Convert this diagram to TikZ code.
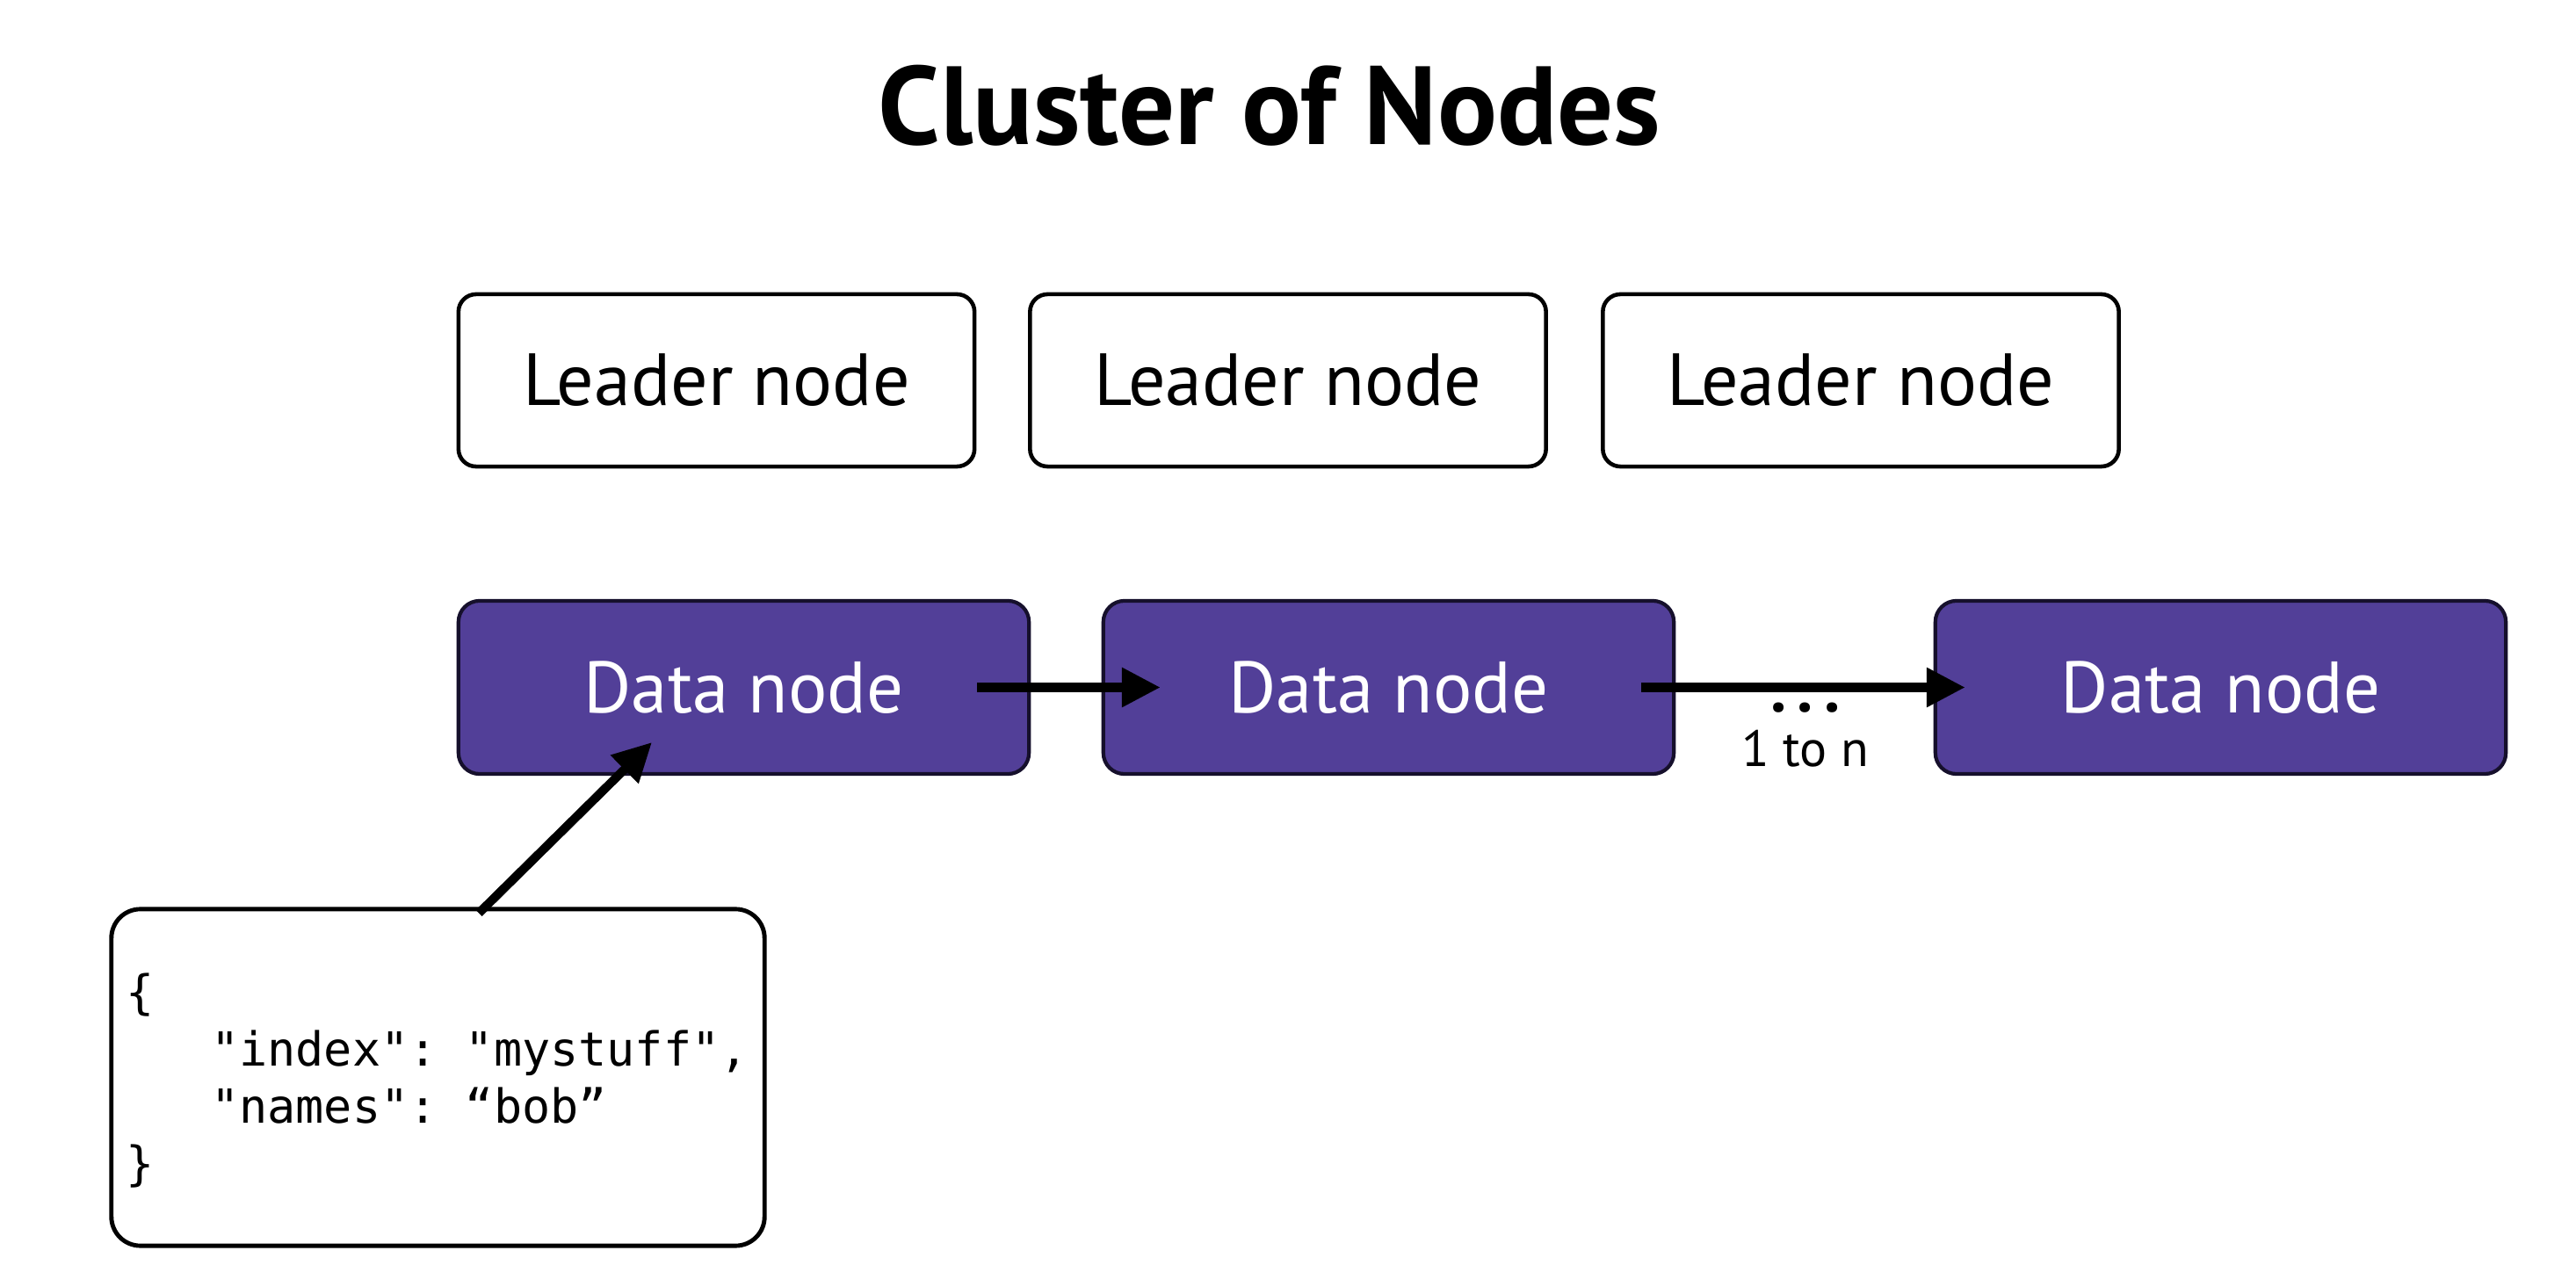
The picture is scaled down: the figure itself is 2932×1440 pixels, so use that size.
\documentclass[tikz,border=0pt]{standalone}
\usepackage{fontspec}
\setmainfont{PT Sans}
\setmonofont{DejaVu Sans Mono}
\usetikzlibrary{arrows.meta}
\definecolor{datapurple}{RGB}{82,63,152}
\definecolor{databorder}{RGB}{22,16,44}
\tikzset{
  leaderbox/.style={draw=black, line width=1.3pt, fill=white, rounded corners=0.2cm,
    minimum width=5.87cm, minimum height=1.96cm, inner sep=0pt,
    font=\fontsize{23.9pt}{28pt}\selectfont},
  databox/.style={draw=databorder, line width=1.2pt, fill=datapurple, rounded corners=0.24cm,
    minimum width=6.49cm, minimum height=1.97cm, inner sep=0pt, text=white,
    font=\fontsize{23.6pt}{28pt}\selectfont},
  jsonbox/.style={draw=black, line width=1.4pt, fill=white, rounded corners=0.33cm,
    minimum width=7.43cm, minimum height=3.83cm, inner sep=0pt},
  jsontxt/.style={anchor=west, inner sep=0pt, align=left,
    font=\ttfamily\fontsize{15.2pt}{18.5pt}\selectfont},
  arr/.style={line width=2.85pt, -{Triangle[length=12.5pt,width=12.2pt]}},
  lbl/.style={inner sep=0pt, font=\fontsize{16.5pt}{20pt}\selectfont},
  dotlbl/.style={inner sep=0pt, font=\bfseries\fontsize{21pt}{24pt}\selectfont},
  titletxt/.style={inner sep=0pt, font=\bfseries\fontsize{36pt}{42pt}\selectfont}
}
\begin{document}
\begin{tikzpicture}[x=0.01cm, y=-0.01cm]
  \fill[white] (0,0) rectangle (2932,1440);
  \useasboundingbox (0,0) rectangle (2932,1440);

  \node[titletxt] (title) at (1445,120) {Cluster of Nodes};

  \node[leaderbox] (l1) at (815.5,433) {Leader node};
  \node[leaderbox] (l2) at (1466,433) {Leader node};
  \node[leaderbox] (l3) at (2118,433) {Leader node};

  \node[databox] (d1) at (846.5,782.5) {Data node};
  \node[databox] (d2) at (1580.5,782.5) {Data node};
  \node[databox] (d3) at (2527.5,782.5) {Data node};

  \node[jsonbox] (json) at (498.5,1226.5) {};
  \node[jsontxt] (jsontext) at (143,1230)
    {\{\\\phantom{xxx}"index": "mystuff",\\\phantom{xxx}"names": “bob”\\\}};

  \node[dotlbl] (dots) at (2055,806) {.\hspace{0.12cm}.\hspace{0.12cm}.};
  \node[lbl] (ton) at (2055,852) {1 to n};

  \coordinate (d1tip) at (742,845);

  \draw[arr] ([xshift=-0.61cm]d1.east) -- ([xshift=0.67cm]d2.west);
  \draw[arr] ([xshift=-0.39cm]d2.east) -- ([xshift=0.36cm]d3.west);
  \draw[arr] ([xshift=0.465cm,yshift=-0.07cm]json.north) -- (d1tip);
\end{tikzpicture}
\end{document}
